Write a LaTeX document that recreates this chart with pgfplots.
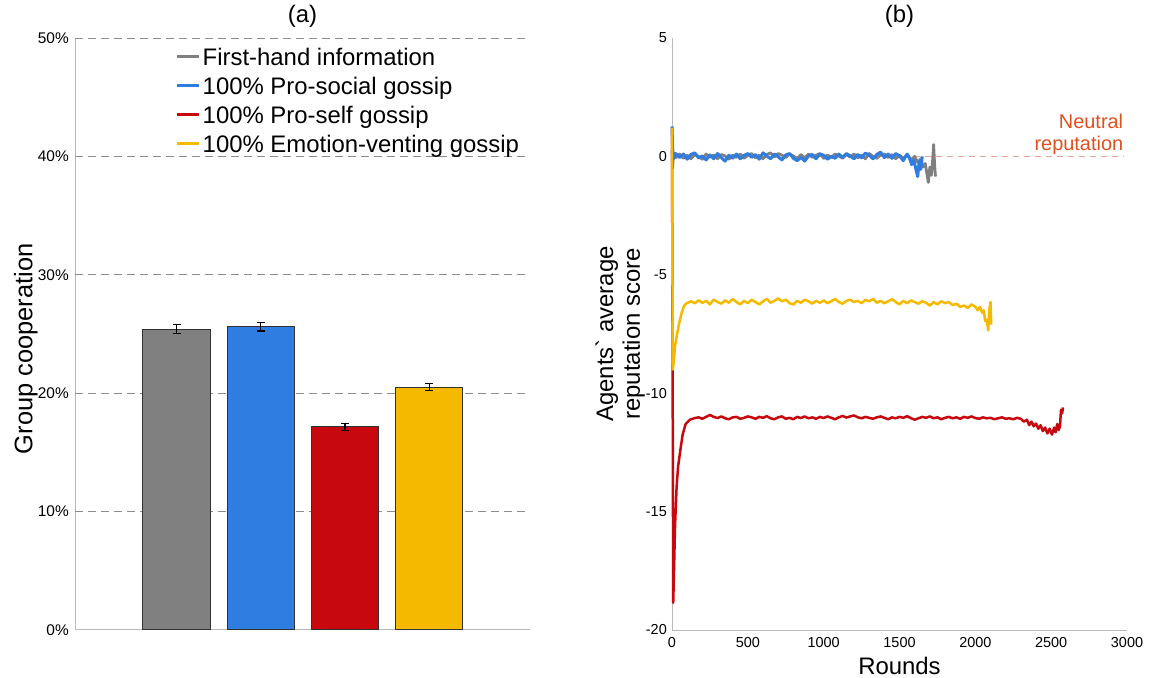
\documentclass[border=0pt]{standalone}
\usepackage{pgfplots}
\pgfplotsset{compat=1.18}
\usepackage{fontspec}
\setmainfont{Liberation Sans}
\definecolor{cgray}{RGB}{128,128,128}
\definecolor{cblue}{RGB}{47,125,225}
\definecolor{cred}{RGB}{200,8,15}
\definecolor{cyellow}{RGB}{245,185,0}
\definecolor{cedge}{RGB}{50,50,50}
\definecolor{caxis}{RGB}{185,185,185}
\definecolor{cgrid}{RGB}{140,140,140}
\definecolor{cneutral}{RGB}{222,80,30}
\definecolor{cneutralline}{RGB}{228,165,145}
\begin{document}
\begin{tikzpicture}
\useasboundingbox (0bp,0bp) rectangle (1157bp,678bp);
% ---------------- (a) ----------------
\begin{axis}[
  at={(75bp,48bp)}, anchor=south west, scale only axis,
  width=455bp, height=592bp,
  xmin=-0.21, xmax=5.2, ymin=0, ymax=50,
  axis x line*=bottom, axis y line*=left,
  axis line style={caxis, line width=1bp},
  xtick=\empty,
  ytick={0,10,20,30,40,50},
  yticklabels={0\%,10\%,20\%,30\%,40\%,50\%},
  extra y ticks={10,20,30,40,50}, extra y tick labels={},
  extra y tick style={grid=major, major tick length=0pt},
  major grid style={cgrid, line width=0.9bp, dash pattern=on 8bp off 5bp},
  major tick length=0pt,
  yticklabel style={font=\fontsize{15.5}{18}\selectfont, inner sep=0pt, xshift=-6bp},
  ylabel={Group cooperation},
  ylabel style={font=\fontsize{25.5}{28}\selectfont, at={(axis description cs:-0.108,0.475)}, anchor=center, rotate=0},
  title={(a)},
  title style={font=\fontsize{24}{28}\selectfont, at={(axis description cs:0.5,1.027)}, anchor=center},
  legend image code/.code={\draw[#1] (0bp,6bp) -- (22bp,6bp);},
  legend cell align=left,
  legend style={draw=none, fill=none, at={(axis description cs:0.222,0.9838)}, anchor=north west,
    font=\fontsize{24}{28}\selectfont, row sep=0pt, inner sep=0pt,
    nodes={inner ysep=0pt, inner xsep=2bp, text height=18bp, text depth=11bp}},
  error bars/error bar style={black, line width=1.1bp},
  error bars/error mark options={black, line width=1.1bp, rotate=90, mark size=4bp},
]
\addlegendimage{cgray, line width=2.5bp}
\addlegendentry{First-hand information}
\addlegendimage{cblue, line width=2.5bp}
\addlegendentry{100\% Pro-social gossip}
\addlegendimage{cred, line width=2.5bp}
\addlegendentry{100\% Pro-self gossip}
\addlegendimage{cyellow, line width=2.5bp}
\addlegendentry{100\% Emotion-venting gossip}
\addplot[ybar, bar width=67.7bp, bar shift=0pt, fill=cgray, draw=cedge, line width=1bp, forget plot,
  error bars/.cd, y dir=both, y explicit] coordinates {(1,25.4) +- (0,0.38)};
\addplot[ybar, bar width=67.7bp, bar shift=0pt, fill=cblue, draw=cedge, line width=1bp, forget plot,
  error bars/.cd, y dir=both, y explicit] coordinates {(2,25.6) +- (0,0.35)};
\addplot[ybar, bar width=67.7bp, bar shift=0pt, fill=cred, draw=cedge, line width=1bp, forget plot,
  error bars/.cd, y dir=both, y explicit] coordinates {(3,17.15) +- (0,0.3)};
\addplot[ybar, bar width=67.7bp, bar shift=0pt, fill=cyellow, draw=cedge, line width=1bp, forget plot,
  error bars/.cd, y dir=both, y explicit] coordinates {(4,20.5) +- (0,0.3)};
\end{axis}
% ---------------- (b) ----------------
\begin{axis}[
  at={(672bp,48bp)}, anchor=south west, scale only axis,
  width=455bp, height=592bp,
  xmin=0, xmax=3000, ymin=-20, ymax=5,
  axis x line*=bottom, axis y line*=left,
  axis line style={caxis, line width=1bp},
  xtick={0,500,1000,1500,2000,2500,3000},
  ytick={-20,-15,-10,-5,0,5},
  major tick length=0pt,
  /pgf/number format/assume math mode=true,
  /pgf/number format/1000 sep={},
  xticklabel style={font=\fontsize{14.5}{17}\selectfont, inner sep=0pt, yshift=-7bp},
  yticklabel style={font=\fontsize{14.5}{17}\selectfont, inner sep=0pt, xshift=-5bp},
  xlabel={Rounds},
  xlabel style={font=\fontsize{24}{28}\selectfont, at={(axis description cs:0.5,-0.060)}, anchor=center},
  ylabel={Agents\textasciigrave\ average\\reputation score},
  ylabel style={font=\fontsize{24}{27}\selectfont, align=center, at={(axis description cs:-0.114,0.5)}, anchor=center},
  title={(b)},
  title style={font=\fontsize{24}{28}\selectfont, at={(axis description cs:0.5,1.027)}, anchor=center},
  clip=false,
]
\addplot[cneutralline, line width=1bp, dash pattern=on 6bp off 5bp] coordinates {(0,0) (2976,0)};
\node[anchor=north east, align=right, text=cneutral, font=\fontsize{20}{21.6}\selectfont, inner sep=0pt]
  at (axis cs:2976,1.78) {Neutral\\reputation};
% gray: first-hand
\addplot[cgray, line width=2.8bp, line join=round] table {
0 0.3
4 -0.5
10 0.15
25 -0.05
50 0.1
75 -0.08
100 0.05
125 -0.1
150 0.08
175 0.0
200 -0.12
225 0.1
250 -0.03
275 0.06
300 -0.1
325 0.08
350 0.02
375 -0.12
400 0.05
425 -0.04
450 0.1
475 -0.08
500 0.04
525 0.12
550 -0.06
575 0.05
600 -0.1
625 0.08
650 0.15
675 -0.02
700 0.12
725 0.05
750 -0.05
775 0.1
800 0.02
825 -0.1
850 0.08
875 -0.06
900 0.1
925 -0.04
950 0.05
975 0.12
1000 -0.08
1025 0.06
1050 -0.05
1075 0.1
1100 0.02
1125 -0.08
1150 0.08
1175 -0.03
1200 0.1
1225 -0.06
1250 0.05
1275 -0.1
1300 0.12
1325 0.0
1350 -0.08
1375 0.06
1400 0.1
1425 -0.05
1450 0.08
1475 -0.1
1500 0.05
1525 -0.08
1550 0.06
1575 -0.15
1600 0.0
1620 -0.25
1640 -0.1
1655 -0.45
1670 -0.3
1680 -0.7
1690 -1.1
1700 -0.45
1710 -0.8
1718 -0.2
1725 0.5
1731 -0.3
1737 -0.85
};
% blue: pro-social
\addplot[cblue, line width=3bp, line join=round] table {
0 1.27
4 0.35
10 -0.1
25 0.12
50 -0.05
75 0.1
100 -0.12
125 0.08
150 0.15
175 -0.06
200 0.02
225 -0.15
250 0.06
275 -0.1
300 0.12
325 -0.05
350 -0.2
375 0.05
400 -0.08
425 0.1
450 -0.1
475 0.04
500 0.12
525 -0.04
550 0.08
575 -0.12
600 0.15
625 0.02
650 -0.1
675 0.1
700 -0.02
725 -0.15
750 0.06
775 0.12
800 -0.08
825 -0.18
850 -0.05
875 -0.2
900 0.02
925 0.08
950 -0.1
975 0.1
1000 0.05
1025 -0.12
1050 0.0
1075 -0.08
1100 0.1
1125 -0.05
1150 0.12
1175 0.02
1200 -0.1
1225 0.08
1250 -0.06
1275 0.14
1300 0.05
1325 -0.1
1350 0.08
1375 0.18
1400 -0.05
1425 0.1
1450 -0.08
1475 0.12
1500 0.02
1525 -0.18
1550 0.1
1565 -0.05
1580 -0.35
1595 -0.15
1610 -0.6
1620 -0.85
1630 -0.2
1640 -0.55
1650 0.0
};
% red: pro-self
\addplot[cred, line width=2.5bp, line join=round] table {
0 1.2
8 -18.85
12 -17.8
20 -15.6
30 -14.0
40 -13.1
53 -12.5
70 -11.75
90 -11.3
118 -11.12
150 -11.05
175 -11.02
200 -11.08
225 -11.0
250 -10.92
275 -11.0
300 -11.05
325 -10.98
350 -11.06
375 -11.1
400 -11.02
425 -11.0
450 -11.08
475 -11.04
500 -10.98
525 -11.02
550 -11.08
575 -11.0
600 -11.04
625 -10.97
650 -11.06
675 -11.1
700 -11.02
725 -10.98
750 -11.08
775 -11.04
800 -11.1
825 -11.0
850 -11.05
875 -10.98
900 -11.06
925 -11.02
950 -11.08
975 -11.0
1000 -11.05
1025 -10.98
1050 -11.04
1075 -11.1
1100 -11.02
1125 -10.96
1150 -11.03
1175 -10.98
1200 -10.94
1225 -11.02
1250 -11.06
1275 -11.0
1300 -11.04
1325 -11.08
1350 -11.02
1375 -10.98
1400 -11.04
1425 -11.1
1450 -11.02
1475 -11.06
1500 -11.0
1525 -11.04
1550 -10.97
1575 -11.05
1600 -11.12
1625 -11.06
1650 -11.0
1675 -11.04
1700 -10.98
1725 -11.06
1750 -11.02
1775 -11.1
1800 -11.04
1825 -11.0
1850 -11.06
1875 -11.02
1900 -11.08
1925 -11.0
1950 -11.04
1975 -10.98
2000 -11.05
2025 -11.08
2050 -11.02
2075 -11.06
2100 -11.04
2125 -11.1
2150 -11.06
2175 -11.02
2200 -11.08
2225 -11.06
2250 -11.1
2275 -11.04
2300 -11.08
2320 -11.2
2340 -11.12
2355 -11.35
2370 -11.2
2385 -11.4
2400 -11.28
2415 -11.5
2430 -11.35
2445 -11.6
2460 -11.45
2475 -11.7
2490 -11.5
2505 -11.75
2520 -11.45
2530 -11.65
2540 -11.3
2550 -11.55
2558 -11.4
2565 -10.7
2572 -10.85
2578 -10.6
};
% yellow: emotion-venting
\addplot[cyellow, line width=2.5bp, line join=round] table {
0 1.2
5 -9.0
10 -8.75
20 -8.0
31 -7.6
45 -7.1
64 -6.6
80 -6.3
97 -6.2
125 -6.12
150 -6.2
175 -6.08
200 -6.18
225 -6.1
250 -6.25
275 -6.05
300 -6.15
325 -6.22
350 -6.08
375 -6.18
400 -6.02
425 -6.15
450 -6.25
475 -6.1
500 -6.2
525 -6.05
550 -6.15
575 -6.25
600 -6.12
625 -6.02
650 -6.18
675 -6.1
700 -6.0
725 -6.12
750 -6.05
775 -6.2
800 -6.25
825 -6.1
850 -6.18
875 -6.05
900 -6.12
925 -6.22
950 -6.1
975 -6.18
1000 -6.08
1025 -6.2
1050 -6.12
1075 -6.02
1100 -6.15
1125 -6.22
1150 -6.1
1175 -6.05
1200 -6.15
1225 -6.1
1250 -6.2
1275 -6.06
1300 -6.12
1325 -6.02
1350 -6.18
1375 -6.1
1400 -6.2
1425 -6.12
1450 -6.03
1475 -6.15
1500 -6.25
1525 -6.1
1550 -6.2
1575 -6.08
1600 -6.15
1625 -6.22
1650 -6.12
1675 -6.18
1700 -6.3
1725 -6.15
1750 -6.25
1775 -6.12
1800 -6.2
1825 -6.15
1850 -6.28
1875 -6.22
1900 -6.35
1925 -6.3
1950 -6.4
1975 -6.25
2000 -6.35
2015 -6.5
2030 -6.35
2045 -6.6
2055 -6.5
2065 -6.95
2075 -6.9
2085 -7.35
2092 -6.5
2100 -6.15
2105 -7.1
};
\end{axis}
\end{tikzpicture}
\end{document}
